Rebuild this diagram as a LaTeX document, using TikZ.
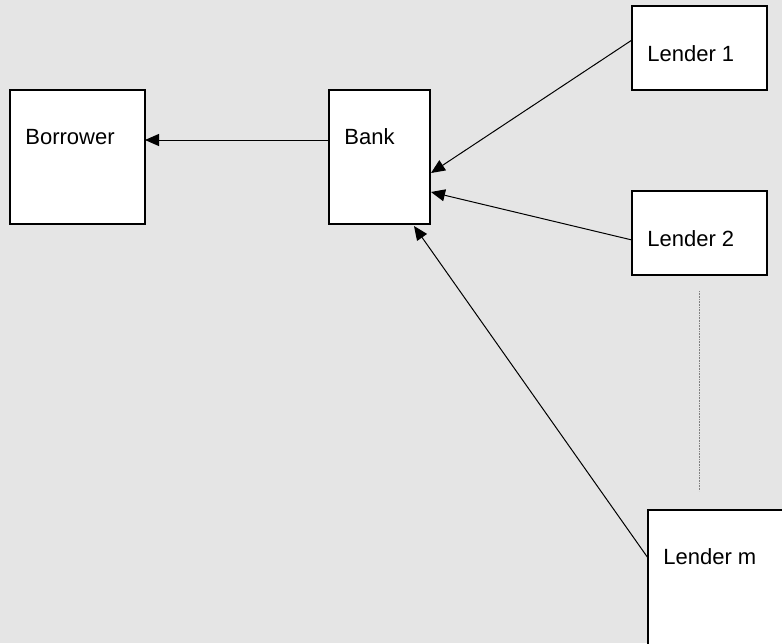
\documentclass[tikz,border=0pt]{standalone}
\usepackage{fontspec}
\setmainfont{Liberation Sans}
\usetikzlibrary{calc,arrows.meta}
\definecolor{bg}{RGB}{229,229,229}
\begin{document}
\begin{tikzpicture}[x=0.5pt,y=-0.5pt,
  box/.style={draw=black,fill=white,line width=0.6pt,inner sep=0pt,outer sep=0pt},
  lbl/.style={anchor=base west,inner sep=0pt,font=\fontsize{11}{13}\selectfont},
  arr/.style={draw=black,line width=0.5pt,-{Triangle[length=7pt,width=6pt]}}]
\useasboundingbox (0,0) rectangle (782,643);
\clip (0,0) rectangle (782,643);
\fill[bg] (0,0) rectangle (782,643);
% boxes
\node[box,minimum width=67.5pt,minimum height=67pt] (borrower) at (77.5,157) {};
\node[box,minimum width=50.5pt,minimum height=67pt] (bank) at (379.5,157) {};
\node[box,minimum width=67.5pt,minimum height=42pt] (lender1) at (699.5,48) {};
\node[box,minimum width=67.5pt,minimum height=42pt] (lender2) at (699.5,233) {};
\node[box,minimum width=76pt,minimum height=96pt] (lenderm) at (724,606) {};
% labels
\node[lbl] (tborrower) at (25,144) {Borrower};
\node[lbl] (tbank) at (344,144) {Bank};
\node[lbl] (tl1) at (647,61) {Lender 1};
\node[lbl] (tl2) at (647,246) {Lender 2};
\node[lbl] (tlm) at (663,564) {Lender m};
% dotted ellipsis line
\coordinate (dtop) at (699,291);
\coordinate (dbot) at (699,491);
\draw[gray,line width=0.5pt,dash pattern=on 0.4pt off 0.4pt] (dtop) -- (dbot);
% connectors
\coordinate (bkL) at ($(bank.west)+(0,-17)$);
\draw[arr] (bkL) -- (bkL -| borrower.east);
\coordinate (l1s) at ($(lender1.west)+(0,-8)$);
\coordinate (l1t) at ($(bank.east)+(1,16)$);
\draw[arr] (l1s) -- (l1t);
\coordinate (l2s) at ($(lender2.west)+(0,7)$);
\coordinate (l2t) at ($(bank.east)+(1,35)$);
\draw[arr] (l2s) -- (l2t);
\coordinate (lms) at ($(lenderm.north west)+(0,48)$);
\coordinate (lmt) at ($(bank.south east)+(-16,2)$);
\draw[arr] (lms) -- (lmt);
\end{tikzpicture}
\end{document}
